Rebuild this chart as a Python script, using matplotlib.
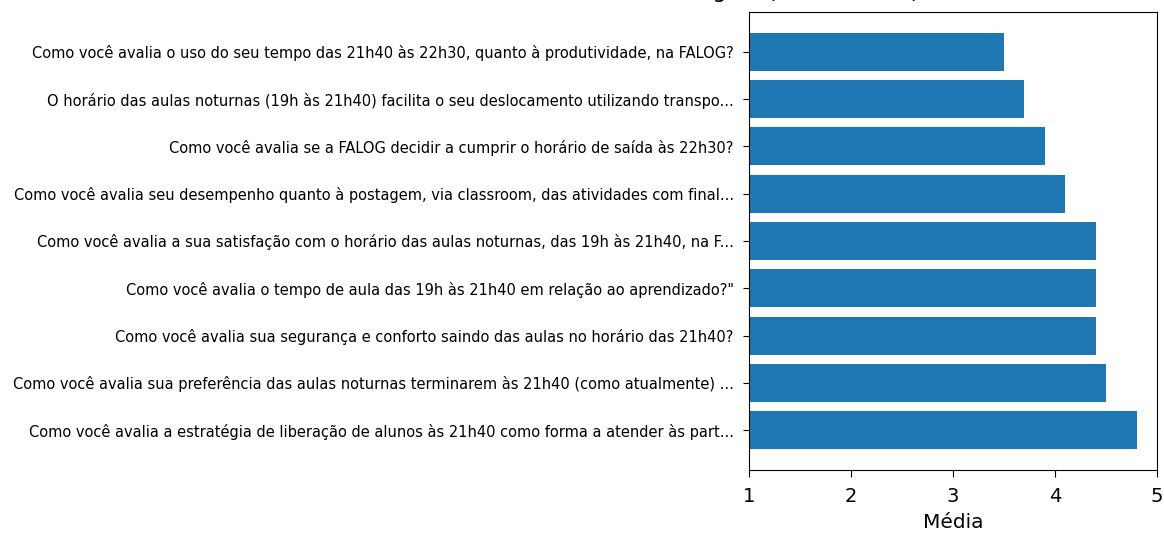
import matplotlib
matplotlib.use("Agg")
import matplotlib.pyplot as plt

perguntas = [
    "Como você avalia a estratégia de liberação de alunos às 21h40 como forma a atender às part...",
    "Como você avalia sua preferência das aulas noturnas terminarem às 21h40 (como atualmente) ...",
    "Como você avalia sua segurança e conforto saindo das aulas no horário das 21h40?",
    "Como você avalia o tempo de aula das 19h às 21h40 em relação ao aprendizado?\"",
    "Como você avalia a sua satisfação com o horário das aulas noturnas, das 19h às 21h40, na F...",
    "Como você avalia seu desempenho quanto à postagem, via classroom, das atividades com final...",
    "Como você avalia se a FALOG decidir a cumprir o horário de saída às 22h30?",
    "O horário das aulas noturnas (19h às 21h40) facilita o seu deslocamento utilizando transpo...",
    "Como você avalia o uso do seu tempo das 21h40 às 22h30, quanto à produtividade, na FALOG?",
]
medias = [4.8, 4.5, 4.4, 4.4, 4.4, 4.1, 3.9, 3.7, 3.5]
titulo = "Nota Média Atingida (escala 1 a 5)"

fig = plt.figure(figsize=(11.64, 5.33), dpi=100)
ax = fig.add_axes([749/1164, 1 - 470/533, (1157-749)/1164, (470-12)/533])
ax.barh(range(len(perguntas)), medias, color="#1f77b4")
ax.set_yticks(range(len(perguntas)))
ax.set_yticklabels(perguntas, fontsize=10.5)
ax.tick_params(axis="y", pad=7, length=4)
ax.set_xlim(1, 5)
ax.set_xticks([1, 2, 3, 4, 5])
ax.tick_params(axis="x", labelsize=14, pad=7, length=5)
ax.set_xlabel("Média", fontsize=14.5, labelpad=5)
fig.text(919/1164, 1 + 2/533, titulo, fontsize=16, ha="right", va="baseline")

fig.savefig("out.png", dpi=100)
